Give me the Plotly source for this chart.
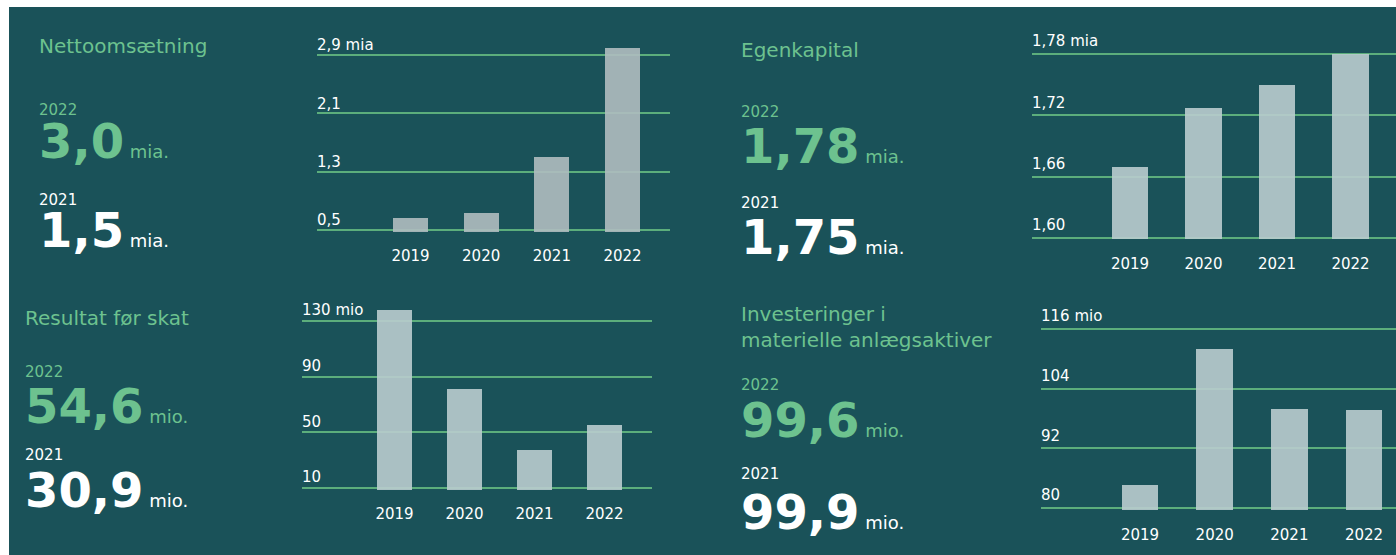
import plotly.graph_objects as go

W, H = 1396, 555

years = ["2019", "2020", "2021", "2022"]

netto_values = [0.66, 0.73, 1.5, 3.0]
netto_ticks = [0.5, 1.3, 2.1, 2.9]
netto_ticktext = ["0,5", "1,3", "2,1", "2,9 mia"]

egenkap_values = [1.669, 1.727, 1.75, 1.78]
egenkap_ticks = [1.60, 1.66, 1.72, 1.78]
egenkap_ticktext = ["1,60", "1,66", "1,72", "1,78 mia"]

resultat_values = [138, 81, 37, 55]
resultat_ticks = [10, 50, 90, 130]
resultat_ticktext = ["10", "50", "90", "130 mio"]

invest_values = [84.6, 112, 99.9, 99.6]
invest_ticks = [80, 92, 104, 116]
invest_ticktext = ["80", "92", "104", "116 mio"]

# key figures shown left of each chart
titles = ["Nettoomsætning", "Egenkapital", "Resultat før skat",
          "Investeringer i<br>materielle anlægsaktiver"]
kpi_2022 = ["3,0", "1,78", "54,6", "99,6"]
kpi_2021 = ["1,5", "1,75", "30,9", "99,9"]
units = ["mia.", "mia.", "mio.", "mio."]

BG = "#1a5259"
GREEN = "#6dc28f"
GRID = "#5cae7c"
FONT = "DejaVu Sans"


def px_x(p):
    return p / W


def px_y(p):
    return 1 - p / H


# pixel layout of each panel: plot box, axis ranges, text block
# ty = title, "2022", big number, "2021", big number
panels = [
    dict(values=netto_values, ticks=netto_ticks, ticktext=netto_ticktext,
         xdom=(317, 670), ydom=(30, 232), xrange=[-1.323, 3.672], yrange=[0.4726, 3.244],
         width=0.495, color="#b0bdc0", shift=-10, standoff=13,
         tx=38, ty=[46, 110, 141, 200, 230]),
    dict(values=egenkap_values, ticks=egenkap_ticks, ticktext=egenkap_ticktext,
         xdom=(1032, 1396), ydom=(30, 239), xrange=[-1.333, 3.619], yrange=[1.599, 1.8036],
         width=0.49, color="#bacdcf", shift=-13, standoff=14,
         tx=740, ty=[50, 112, 146, 203, 237]),
    dict(values=resultat_values, ticks=resultat_ticks, ticktext=resultat_ticktext,
         xdom=(302, 652), ydom=(300, 490), xrange=[-1.321, 3.679], yrange=[8.56, 145],
         width=0.5, color="#bacdcf", shift=-11, standoff=13,
         tx=24, ty=[318, 372, 406, 455, 490]),
    dict(values=invest_values, ticks=invest_ticks, ticktext=invest_ticktext,
         xdom=(1041, 1396), ydom=(305, 510), xrange=[-1.326, 3.428], yrange=[79.6, 120.8],
         width=0.49, color="#bacdcf", shift=-13, standoff=14,
         tx=740, ty=[327, 385, 420, 474, 512]),
]

fig = go.Figure()
annotations = []

for i, p in enumerate(panels):
    n = "" if i == 0 else str(i + 1)
    fig.add_trace(go.Bar(
        x=years,
        y=p["values"],
        width=p["width"],
        marker=dict(color=p["color"], line=dict(width=0)),
        opacity=0.9,
        xaxis="x" + n,
        yaxis="y" + n,
        showlegend=False,
        hoverinfo="x+y",
    ))

    fig.layout["xaxis" + n] = dict(
        domain=[px_x(p["xdom"][0]), px_x(p["xdom"][1])],
        range=p["xrange"],
        type="category",
        anchor="y" + n,
        showgrid=False, zeroline=False, showline=False,
        ticks="",
        ticklabelstandoff=p["standoff"],
        tickfont=dict(family=FONT, size=15, color="white"),
        fixedrange=True,
    )
    fig.layout["yaxis" + n] = dict(
        domain=[px_y(p["ydom"][1]), px_y(p["ydom"][0])],
        range=p["yrange"],
        anchor="x" + n,
        tickvals=p["ticks"],
        ticktext=p["ticktext"],
        ticklabelposition="inside",
        ticklabelshift=p["shift"],
        ticklabelstandoff=-3,
        ticklabeloverflow="allow",
        showgrid=True, gridcolor=GRID, gridwidth=2,
        zeroline=False, showline=False, ticks="",
        tickfont=dict(family=FONT, size=15, color="white"),
        fixedrange=True,
    )

    # text block: title, 2022 figure (green), 2021 figure (white)
    ty = p["ty"]
    x = px_x(p["tx"])
    big = "<b>%s</b><span style='font-size:18px'> %s</span>"
    annotations += [
        dict(text=titles[i], x=x, y=px_y(ty[0]), font=dict(size=20, color=GREEN)),
        dict(text="2022", x=x, y=px_y(ty[1]), font=dict(size=15, color=GREEN)),
        dict(text=big % (kpi_2022[i], units[i]), x=x, y=px_y(ty[2]),
             font=dict(size=48, color=GREEN)),
        dict(text="2021", x=x, y=px_y(ty[3]), font=dict(size=15, color="white")),
        dict(text=big % (kpi_2021[i], units[i]), x=x, y=px_y(ty[4]),
             font=dict(size=48, color="white")),
    ]

for a in annotations:
    a.update(xref="paper", yref="paper", xanchor="left", yanchor="middle",
             showarrow=False, align="left", borderpad=0)
    a["font"]["family"] = FONT

fig.update_layout(
    width=W, height=H,
    margin=dict(l=0, r=0, t=0, b=0),
    paper_bgcolor="white",
    plot_bgcolor="rgba(0,0,0,0)",
    bargap=0,
    annotations=annotations,
    shapes=[dict(type="rect", xref="paper", yref="paper", layer="below",
                 x0=px_x(9), x1=1, y0=0, y1=px_y(7),
                 fillcolor=BG, line=dict(width=0))],
)

# page without the default body margin so the figure fills the window exactly
fig.write_html("out.html", config={"displayModeBar": False},
               post_script="document.body.style.margin='0';")
